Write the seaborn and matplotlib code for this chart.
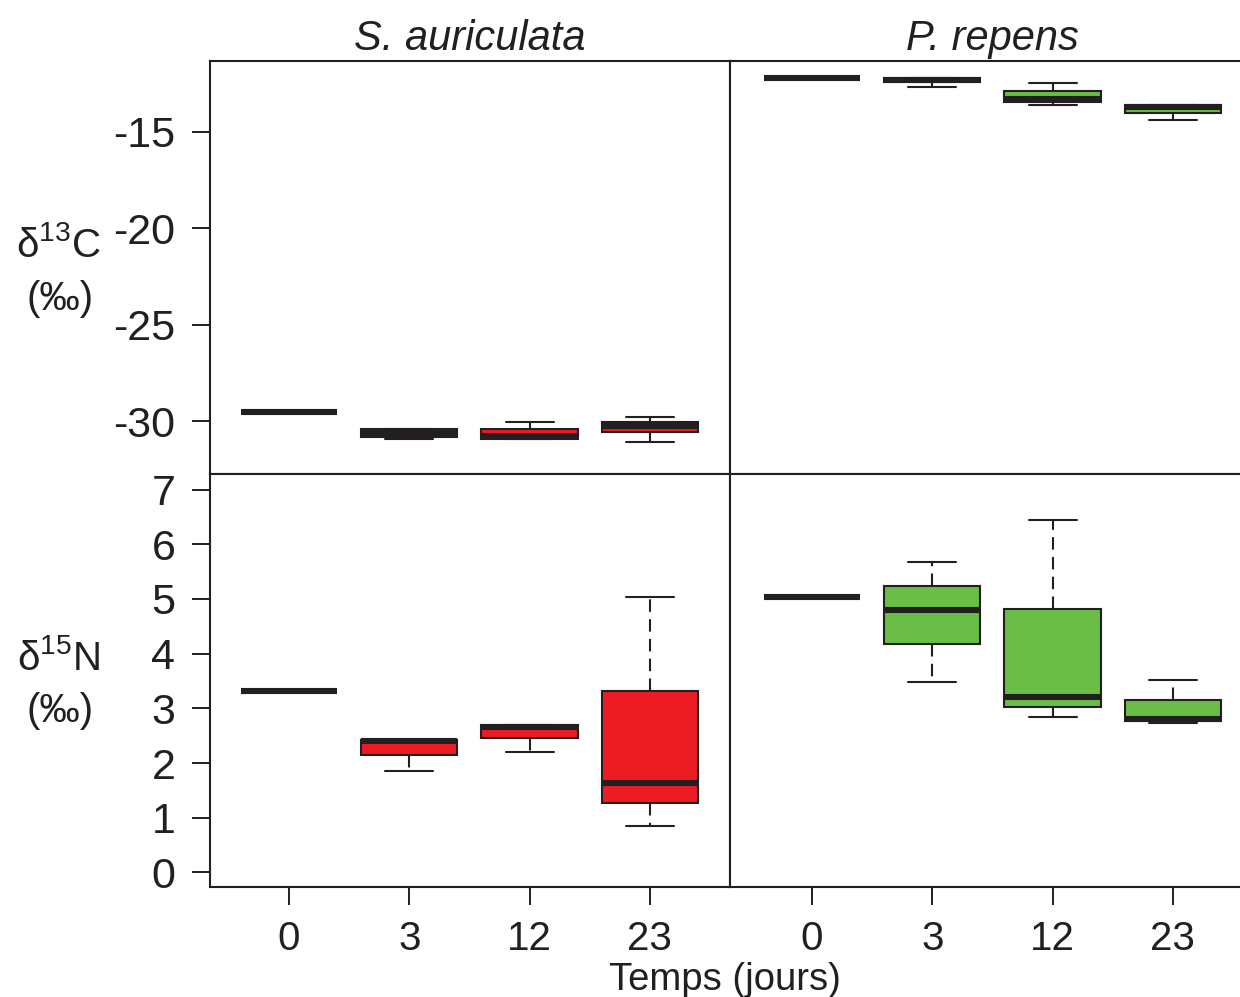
import numpy as np
import pandas as pd
import matplotlib
matplotlib.use("Agg")
import matplotlib.pyplot as plt
import seaborn as sns

# ---------------- data (five-number summaries: min, q1, median, q3, max) -------------
days = ["0", "3", "12", "23"]
species = ["S. auriculata", "P. repens"]

sa_d13c = [
    [-29.55, -29.55, -29.55, -29.55, -29.55],
    [-30.93, -30.81, -30.60, -30.44, -30.44],
    [-30.93, -30.93, -30.80, -30.44, -30.03],
    [-31.07, -30.58, -30.28, -30.05, -29.81],
]
pr_d13c = [
    [-12.21, -12.21, -12.21, -12.21, -12.21],
    [-12.68, -12.43, -12.30, -12.20, -12.20],
    [-13.58, -13.45, -13.31, -12.90, -12.46],
    [-14.38, -14.01, -13.73, -13.60, -13.60],
]
sa_d15n = [
    [3.32, 3.32, 3.32, 3.32, 3.32],
    [1.85, 2.15, 2.40, 2.43, 2.43],
    [2.21, 2.45, 2.65, 2.69, 2.69],
    [0.85, 1.26, 1.64, 3.32, 5.04],
]
pr_d15n = [
    [5.04, 5.04, 5.04, 5.04, 5.04],
    [3.49, 4.18, 4.80, 5.24, 5.68],
    [2.85, 3.02, 3.21, 4.82, 6.44],
    [2.73, 2.77, 2.80, 3.15, 3.52],
]

c_ticks = [-15, -20, -25, -30]
n_ticks = [0, 1, 2, 3, 4, 5, 6, 7]

red = "#ED1C24"
green = "#6ABD45"
dark = "#231F20"

# ---------------- build long table ----------------
rows = []
for sp, iso, table in [
    ("S. auriculata", "C", sa_d13c),
    ("P. repens", "C", pr_d13c),
    ("S. auriculata", "N", sa_d15n),
    ("P. repens", "N", pr_d15n),
]:
    for d, vals in zip(days, table):
        for v in vals:
            rows.append({"species": sp, "iso": iso, "day": d, "value": v})
df = pd.DataFrame(rows)

# ---------------- style ----------------
sns.set_style("white")
plt.rcParams["font.family"] = ["Liberation Sans", "DejaVu Sans"]
plt.rcParams["mathtext.fontset"] = "custom"
plt.rcParams["mathtext.rm"] = "Liberation Sans"
plt.rcParams["mathtext.it"] = "Liberation Sans:italic"

W, H = 1240, 997
fig = plt.figure(figsize=(W / 100, H / 100), dpi=100)


def px_axes(x0, x1, y0, y1):
    return fig.add_axes([x0 / W, 1 - y1 / H, (x1 - x0) / W, (y1 - y0) / H])


axes = {
    ("S. auriculata", "C"): px_axes(210, 730, 61, 474),
    ("P. repens", "C"): px_axes(730, 1253, 61, 474),
    ("S. auriculata", "N"): px_axes(210, 730, 474, 887),
    ("P. repens", "N"): px_axes(730, 1253, 474, 887),
}
xlims = {"S. auriculata": (-0.657, 3.666), "P. repens": (-0.682, 3.666)}
ylims = {"C": (-32.75, -11.32), "N": (-0.267, 7.285)}
colors = {"S. auriculata": red, "P. repens": green}

for (sp, iso), ax in axes.items():
    sub = df[(df.species == sp) & (df.iso == iso)]
    sns.boxplot(
        data=sub, x="day", y="value", order=days, ax=ax,
        color=colors[sp], saturation=1, whis=(0, 100), width=0.8,
        linecolor=dark, linewidth=1.5, showfliers=False,
        medianprops=dict(linewidth=4.4, color=dark, solid_capstyle="butt"),
        whiskerprops=dict(linewidth=1.5, linestyle=(0, (6, 3.5))),
        capprops=dict(linewidth=1.5),
    )
    ax.set_xlim(*xlims[sp])
    ax.set_ylim(*ylims[iso])
    ax.set_xlabel("")
    ax.set_ylabel("")
    for s in ax.spines.values():
        s.set_visible(True)
        s.set_color(dark)
        s.set_linewidth(1.5)
    ax.tick_params(direction="out", length=13, width=1.4, color=dark,
                   labelcolor=dark)
    ax.tick_params(axis="y", labelsize=31, pad=12)
    ax.tick_params(axis="x", labelsize=29, pad=10.5)
    if iso == "C":
        ax.tick_params(axis="x", bottom=False, labelbottom=False)
    else:
        ax.set_xticks(range(len(days)))
        ax.set_xticklabels(days)
        ax.tick_params(axis="x", bottom=True, labelbottom=True)
    if sp == "S. auriculata":
        ticks = c_ticks if iso == "C" else n_ticks
        ax.set_yticks(ticks)
        ax.set_yticklabels([str(t) for t in ticks])
        ax.tick_params(axis="y", left=True, labelleft=True)
    else:
        ax.tick_params(axis="y", left=False, labelleft=False)

# titles
fig.text(470 / W, 1 - 50 / H, "S. auriculata", fontsize=30, style="italic",
         ha="center", va="baseline", color=dark)
fig.text(992.5 / W, 1 - 50 / H, "P. repens", fontsize=30, style="italic",
         ha="center", va="baseline", color=dark)

# y labels
fig.text(58 / W, 1 - 257 / H, r"δ$^{13}$C", fontsize=29, ha="center",
         va="baseline", color=dark)
fig.text(60 / W, 1 - 310 / H, "(‰)", fontsize=29, ha="center",
         va="baseline", color=dark)
fig.text(58 / W, 1 - 670 / H, r"δ$^{15}$N", fontsize=29, ha="center",
         va="baseline", color=dark)
fig.text(60 / W, 1 - 722 / H, "(‰)", fontsize=29, ha="center",
         va="baseline", color=dark)

# x label
fig.text(724.5 / W, 1 - 990 / H, "Temps (jours)", fontsize=27.5, ha="center",
         va="baseline", color=dark)

fig.savefig("out.png", dpi=100)
